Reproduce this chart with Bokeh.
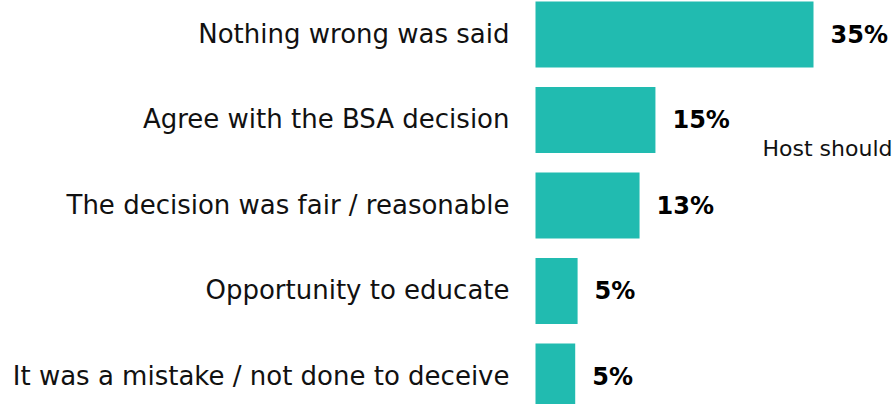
from bokeh.plotting import figure
from bokeh.models import Range1d, ColumnDataSource
from bokeh.core.properties import value
from bokeh.embed import file_html
from bokeh.resources import INLINE

categories = [
    "Nothing wrong was said",
    "Agree with the BSA decision",
    "The decision was fair / reasonable",
    "Opportunity to educate",
    "It was a mistake / not done to deceive",
]
values = [35.0, 15.1, 13.1, 5.3, 5.0]
value_labels = ["35%", "15%", "13%", "5%", "5%"]
side_text = ["Host should"]

W, H = 894, 404
px_per_unit = 278 / 35.0
bar_left_px = 535
pitch = 85.5
first_center = 34

p = figure(width=W, height=H, output_backend="svg", toolbar_location=None,
           min_border=0, outline_line_color=None)
p.x_range = Range1d(-bar_left_px / px_per_unit, (W - bar_left_px) / px_per_unit)
p.y_range = Range1d((H - first_center) / pitch, -first_center / pitch)
p.axis.visible = False
p.grid.visible = False
p.background_fill_color = "white"
p.border_fill_color = "white"

ys = list(range(len(categories)))
src = ColumnDataSource(dict(y=ys, v=values, cat=categories, lab=value_labels, zero=[0] * len(ys)))

p.hbar(y="y", left=0, right="v", height=66 / pitch, source=src,
       fill_color="#21BBB0", line_color=None)

p.text(x="zero", y="y", text="cat", source=src, x_offset=-26, y_offset=-1,
       text_align="right", text_baseline="middle",
       text_font=value("DejaVu Sans"), text_font_size="26px", text_color="#111111")

p.text(x="v", y="y", text="lab", source=src, x_offset=17,
       text_align="left", text_baseline="middle",
       text_font=value("DejaVu Sans"), text_font_size="24px", text_font_style="bold",
       text_color="#000000")

p.text(x=[(892 - bar_left_px) / px_per_unit], y=[(148 - first_center) / pitch], text=side_text,
       text_align="right", text_baseline="middle",
       text_font=value("DejaVu Sans"), text_font_size="22px", text_color="#111111")

open("out.html", "w").write(file_html(p, INLINE))
